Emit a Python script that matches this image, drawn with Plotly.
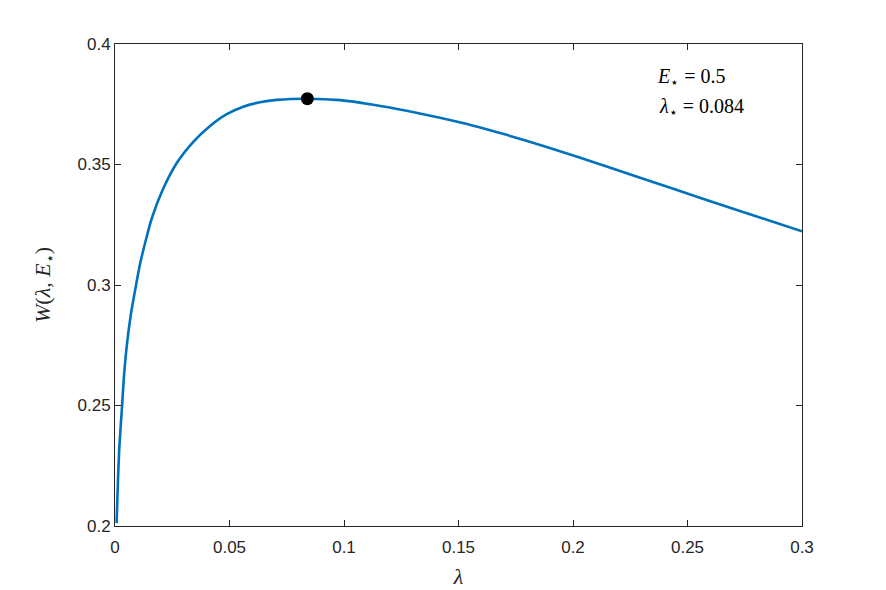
import plotly.graph_objects as go

# Data
lam = [0.0007, 0.0013, 0.0019, 0.0031, 0.0038, 0.0051, 0.0070, 0.0092, 0.0110,
       0.0137, 0.0160, 0.0208, 0.0269, 0.0343, 0.0415, 0.0488, 0.0560, 0.0633,
       0.0706, 0.0840, 0.0983, 0.1128, 0.1274, 0.1419, 0.1565, 0.1710, 0.1878,
       0.2147, 0.2438, 0.2729, 0.3000]
W = [0.2012, 0.2191, 0.2329, 0.2500, 0.2606, 0.2744, 0.2883, 0.3000, 0.3090,
     0.3195, 0.3275, 0.3394, 0.3505, 0.3595, 0.3660, 0.3709, 0.3740, 0.3758,
     0.3768, 0.3773, 0.3767, 0.3748, 0.3723, 0.3694, 0.3661, 0.3623, 0.3575,
     0.3492, 0.3399, 0.3307, 0.3223]
lam_star = [0.084]
W_star = [0.3773]
x_ticks = [0, 0.05, 0.1, 0.15, 0.2, 0.25, 0.3]
x_tick_labels = ["0", "0.05", "0.1", "0.15", "0.2", "0.25", "0.3"]
y_ticks = [0.2, 0.25, 0.3, 0.35, 0.4]
y_tick_labels = ["0.2", "0.25", "0.3", "0.35", "0.4"]

W_PX, H_PX = 886, 590
ML, MR, MT, MB = 115, 84, 44, 64

fig = go.Figure()
fig.add_trace(go.Scatter(x=lam, y=W, mode="lines",
                         line=dict(color="#0072BD", width=2.6, shape="spline", smoothing=0.6),
                         hoverinfo="skip", showlegend=False))
fig.add_trace(go.Scatter(x=lam_star, y=W_star, mode="markers",
                         marker=dict(color="black", size=13), showlegend=False))

axis_common = dict(showgrid=False, zeroline=False, showline=True, linecolor="#262626",
                   linewidth=1, mirror="ticks", ticks="inside", ticklen=6,
                   tickcolor="#262626",
                   tickfont=dict(family="Liberation Sans, Arial", size=17, color="#262626"))

fig.update_xaxes(range=[0, 0.3], tickvals=x_ticks, ticktext=x_tick_labels,
                 ticklabelstandoff=6,
                 title=dict(text="<i>λ</i>", font=dict(family="Liberation Serif", size=22, color="#262626"),
                            standoff=12), **axis_common)
fig.update_yaxes(range=[0.2, 0.4], tickvals=y_ticks, ticktext=y_tick_labels,
                 title=dict(text="<i>W</i>(<i>λ</i>, <i>E</i><sub>⋆</sub>)",
                            font=dict(family="Liberation Serif", size=22, color="#262626"),
                            standoff=20), **axis_common)


def to_plot_frac(px, py):
    return ((px - ML) / (W_PX - ML - MR), 1 - (py - MT) / (H_PX - MT - MB))


ax1, ay1 = to_plot_frac(655, 77)
ax2, ay2 = to_plot_frac(657, 107)
fig.add_annotation(x=ax1, y=ay1, xref="paper", yref="paper",
                   xanchor="left", yanchor="middle", showarrow=False,
                   text="<i>E</i><sub>⋆</sub> = 0.5",
                   font=dict(family="Liberation Serif", size=20, color="black"))
fig.add_annotation(x=ax2, y=ay2, xref="paper", yref="paper",
                   xanchor="left", yanchor="middle", showarrow=False,
                   text="<i>λ</i><sub>⋆</sub> = 0.084",
                   font=dict(family="Liberation Serif", size=20, color="black"))

fig.update_layout(width=W_PX, height=H_PX,
                  margin=dict(l=ML, r=MR, t=MT, b=MB, autoexpand=False),
                  plot_bgcolor="white", paper_bgcolor="white")

fig.write_html("out.html")
